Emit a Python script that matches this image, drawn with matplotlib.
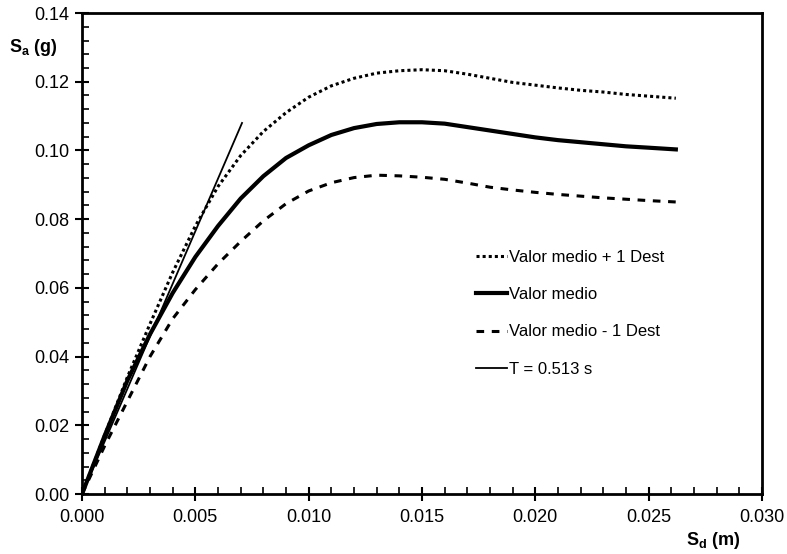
import numpy as np
import matplotlib
matplotlib.use("Agg")
import matplotlib.pyplot as plt
from matplotlib.ticker import MultipleLocator, FormatStrFormatter

plt.rcParams.update({
    "font.family": ["Liberation Sans", "DejaVu Sans"],
    "mathtext.fontset": "custom",
    "mathtext.rm": "Liberation Sans",
    "mathtext.bf": "Liberation Sans:bold",
})

# spectral displacement (m)
sd = [0.000, 0.001, 0.002, 0.003, 0.004, 0.005, 0.006, 0.007, 0.008, 0.009,
      0.010, 0.011, 0.012, 0.013, 0.014, 0.015, 0.016, 0.017, 0.018, 0.019,
      0.020, 0.021, 0.022, 0.023, 0.024, 0.025, 0.0262]

# spectral acceleration (g)
sa_plus = [0.0, 0.0172, 0.0340, 0.0495, 0.0645, 0.0780, 0.0895, 0.0985, 0.1055, 0.111,
           0.1155, 0.1188, 0.121, 0.1225, 0.1232, 0.1235, 0.1232, 0.1222, 0.121, 0.1198,
           0.119, 0.1182, 0.1175, 0.117, 0.1163, 0.1158, 0.1152]
sa_mean = [0.0, 0.0170, 0.033, 0.0465, 0.0585, 0.069, 0.078, 0.086, 0.0925, 0.0978,
           0.1015, 0.1045, 0.1065, 0.1077, 0.1082, 0.1082, 0.1078, 0.1068, 0.1058, 0.1048,
           0.1038, 0.103, 0.1024, 0.1018, 0.1012, 0.1008, 0.1003]
sa_minus = [0.0, 0.014, 0.027, 0.040, 0.051, 0.0595, 0.067, 0.0735, 0.0795, 0.0845,
            0.0882, 0.0906, 0.0921, 0.0928, 0.0926, 0.0922, 0.0916, 0.0905, 0.0893, 0.0885,
            0.0878, 0.0872, 0.0867, 0.0862, 0.0858, 0.0854, 0.085]

# elastic line, T = 0.513 s
sd_T = [0.0, 0.00706]
sa_T = [0.0, 0.108]

fig = plt.figure(figsize=(7.87, 5.54), dpi=100)
ax = fig.add_axes([0.1042, 0.1083, 0.8640, 0.8682])

ax.plot(sd, sa_plus, color="black", lw=2.2, ls=(0, (1, 1)), label="Valor medio + 1 Dest")
ax.plot(sd, sa_mean, color="black", lw=3.0, ls="-", label="Valor medio")
ax.plot(sd, sa_minus, color="black", lw=2.2, ls=(0, (2.5, 2.5)), label="Valor medio - 1 Dest")
ax.plot(sd_T, sa_T, color="black", lw=1.3, ls="-", label="T = 0.513 s")

ax.set_xlim(0, 0.030)
ax.set_ylim(0, 0.14)
ax.xaxis.set_major_locator(MultipleLocator(0.005))
ax.xaxis.set_minor_locator(MultipleLocator(0.001))
ax.yaxis.set_major_locator(MultipleLocator(0.02))
ax.yaxis.set_minor_locator(MultipleLocator(0.004))
ax.xaxis.set_major_formatter(FormatStrFormatter("%.3f"))
ax.yaxis.set_major_formatter(FormatStrFormatter("%.2f"))

for s in ax.spines.values():
    s.set_linewidth(2)
ax.tick_params(which="major", direction="inout", length=10, width=1.5,
               labelsize=13, colors="black")
ax.tick_params(which="minor", direction="in", length=5, width=1.2)
ax.tick_params(axis="x", which="major", pad=6)
ax.tick_params(axis="y", which="major", pad=4)

fig.text(0.012, 0.915, r"$\mathbf{S_a}$" + " (g)", fontsize=13, fontweight="bold",
         ha="left", va="center")
fig.text(0.872, 0.024, r"$\mathbf{S_d}$" + " (m)", fontsize=13, fontweight="bold",
         ha="left", va="center")

leg = ax.legend(loc="upper left", bbox_to_anchor=(0.579, 0.507), frameon=False,
                fontsize=12, handlelength=1.9, handletextpad=0.1,
                labelspacing=1.33, borderaxespad=0, borderpad=0)

fig.savefig("out.png", dpi=100)
